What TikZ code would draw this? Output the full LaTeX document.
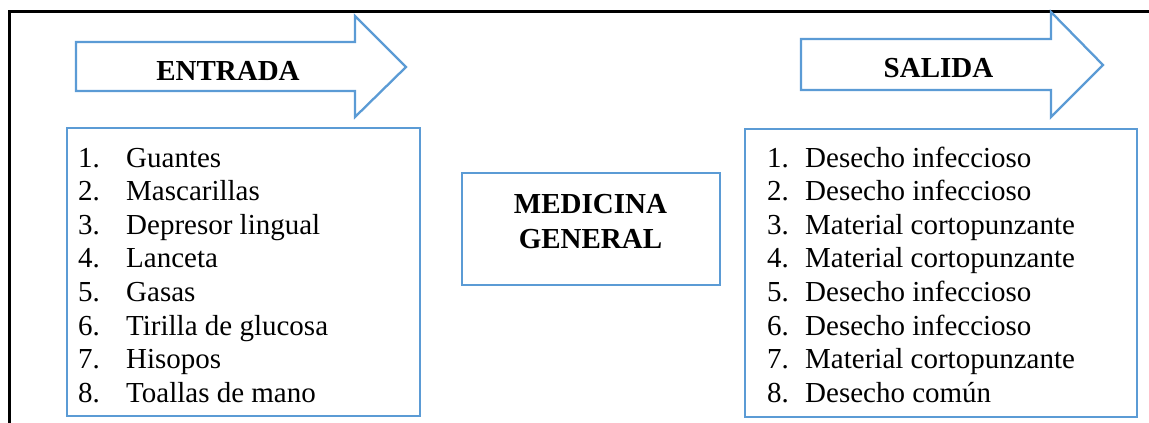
\documentclass[tikz,border=0pt]{standalone}
\usepackage{fontspec}
\setmainfont{Liberation Serif}
\definecolor{boxblue}{HTML}{5B9BD5}
\begin{document}
\begin{tikzpicture}[x=1pt,y=-1pt,
  frameline/.style={draw=black,line width=3pt},
  blueshape/.style={draw=boxblue,line width=2.3pt,line join=miter},
  bluebox/.style={draw=boxblue,line width=2.3pt,inner sep=0pt,minimum width=#1},
  headtxt/.style={font=\fontsize{29}{35}\selectfont\bfseries,anchor=base,inner sep=0pt},
  itemtxt/.style={font=\fontsize{29}{33.6}\selectfont,anchor=base west,inner sep=0pt}]
\useasboundingbox (0,0) rectangle (1149,423);
% outer frame
\draw[frameline] (9,423) -- (9,11) -- (1149,11);
% arrows
\draw[blueshape] (76,42) -- (355,42) -- (355,16) -- (406,67) -- (355,117) -- (355,91) -- (76,91) -- cycle;
\draw[blueshape] (801,39) -- (1051,39) -- (1051,12) -- (1103,65) -- (1051,117) -- (1051,90) -- (801,90) -- cycle;
\node[headtxt] (entrada) at (228,80) {ENTRADA};
\node[headtxt] (salida) at (938.5,77) {SALIDA};
% boxes
\node[bluebox=353pt,minimum height=288pt] (inbox) at (243.5,272) {};
\node[bluebox=258pt,minimum height=112pt] (midbox) at (591,229) {};
\node[bluebox=392pt,minimum height=288pt] (outbox) at (941,273) {};
\node[headtxt] (med1) at (590.5,213) {MEDICINA};
\node[headtxt] (med2) at (590.5,248) {GENERAL};
% input list
\foreach \t [count=\i] in {Guantes,Mascarillas,Depresor lingual,Lanceta,Gasas,Tirilla de glucosa,Hisopos,Toallas de mano}{
  \node[itemtxt] (innum\i) at (78,{167+33.6*(\i-1)}) {\i.};
  \node[itemtxt] (initem\i) at (126,{167+33.6*(\i-1)}) {\t};
}
% output list
\foreach \t [count=\i] in {Desecho infeccioso,Desecho infeccioso,Material cortopunzante,Material cortopunzante,Desecho infeccioso,Desecho infeccioso,Material cortopunzante,Desecho común}{
  \node[itemtxt] (outnum\i) at (767,{167+33.6*(\i-1)}) {\i.};
  \node[itemtxt] (outitem\i) at (805,{167+33.6*(\i-1)}) {\t};
}
\end{tikzpicture}
\end{document}
